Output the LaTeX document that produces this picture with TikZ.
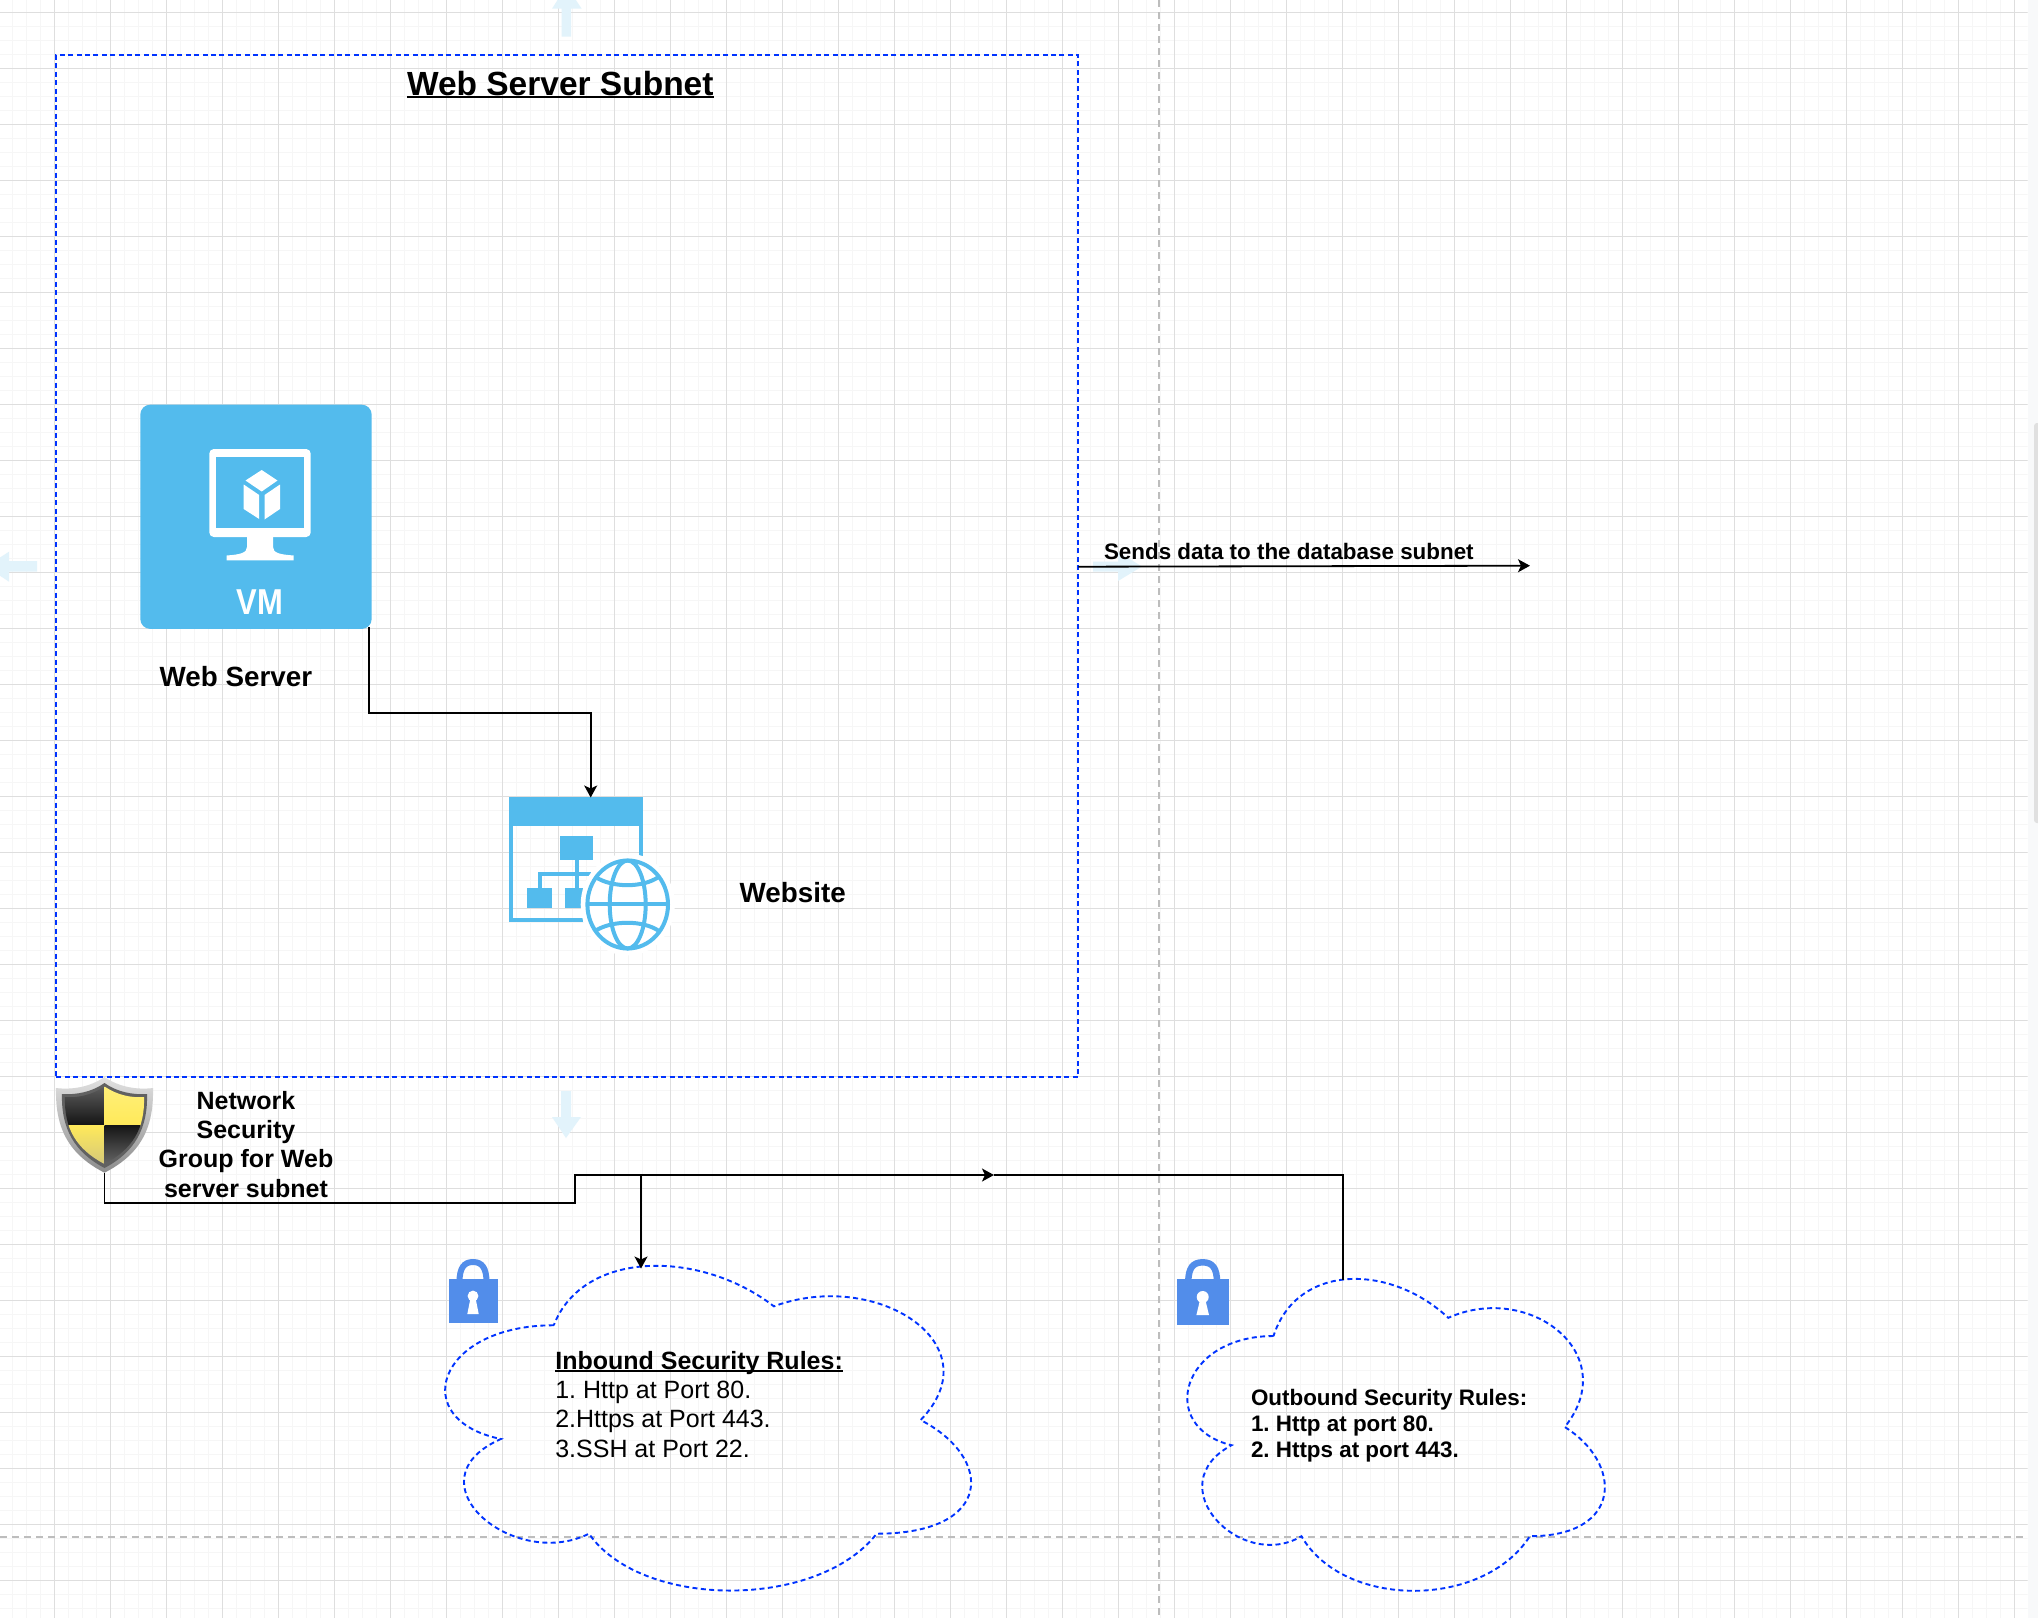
\documentclass[tikz,border=0pt]{standalone}
\usepackage{fontspec}
\setmainfont{Liberation Sans}
\usetikzlibrary{arrows.meta}
\frenchspacing
\definecolor{azureblue}{HTML}{53BBED}
\definecolor{boxblue}{HTML}{0033FF}
\definecolor{lockblue}{HTML}{528DEA}
\definecolor{gridmajor}{HTML}{DEDEDE}
\definecolor{gridminor}{HTML}{F6F6F6}
\definecolor{guidegray}{HTML}{BDBDBD}
\definecolor{hoverblue}{HTML}{E2F3FB}
\definecolor{panelgray}{HTML}{F8F9FA}
\definecolor{scrollgray}{HTML}{E0E0E0}
\definecolor{shieldyellow}{HTML}{FFE95A}
\definecolor{shieldpale}{HTML}{FFF07A}
\newsavebox{\ulbox}
\newcommand{\thickul}[2]{\sbox{\ulbox}{#2}\rlap{\rule[-#1]{\wd\ulbox}{2.2pt}}\usebox{\ulbox}}
\tikzset{
  bluedash/.style={draw=boxblue,line width=1.9pt,dash pattern=on 5pt off 3.4pt},
  guide/.style={draw=guidegray,line width=1.9pt,dash pattern=on 7pt off 5pt},
  conn/.style={draw=black,line width=1.8pt},
  connarrow/.style={conn,-{Stealth[length=12pt,width=13pt,inset=3pt]}},
  lbl/.style={inner sep=0pt,outer sep=0pt,text=black},
  hover/.style={fill=hoverblue},
  anchorbox/.style={inner sep=0pt,outer sep=0pt},
}
\newcommand{\cloudshape}[4]{%
  \draw[bluedash]
  ({#1+.25*#3},{#2+.25*#4})
  .. controls ({#1+.05*#3},{#2+.25*#4}) and ({#1},{#2+.5*#4}) .. ({#1+.16*#3},{#2+.55*#4})
  .. controls ({#1},{#2+.66*#4}) and ({#1+.18*#3},{#2+.9*#4}) .. ({#1+.31*#3},{#2+.8*#4})
  .. controls ({#1+.4*#3},{#2+#4}) and ({#1+.7*#3},{#2+#4}) .. ({#1+.8*#3},{#2+.8*#4})
  .. controls ({#1+#3},{#2+.8*#4}) and ({#1+#3},{#2+.6*#4}) .. ({#1+.875*#3},{#2+.5*#4})
  .. controls ({#1+#3},{#2+.3*#4}) and ({#1+.8*#3},{#2+.1*#4}) .. ({#1+.625*#3},{#2+.2*#4})
  .. controls ({#1+.5*#3},{#2+.05*#4}) and ({#1+.3*#3},{#2+.05*#4}) .. cycle;}
\begin{document}
\begin{tikzpicture}[x=1pt,y=-1pt]
\useasboundingbox (0,0) rectangle (2038,1618);
\fill[white] (0,0) rectangle (2038,1618);
\begin{scope}
\clip (0,0) rectangle (2027.7,1618);
% minor grid
\foreach \i in {0,...,145} {\draw[gridminor,line width=1.6pt] ({12.3+14*\i},0) -- ({12.3+14*\i},1618);}
\foreach \i in {0,...,115} {\draw[gridminor,line width=1.6pt] (0,{12.3+14*\i}) -- (2038,{12.3+14*\i});}
% major grid
\foreach \i in {0,...,35} {\draw[gridmajor,line width=1.2pt] ({54.3+56*\i},0) -- ({54.3+56*\i},1618);}
\foreach \i in {0,...,28} {\draw[gridmajor,line width=1.2pt] (0,{12.3+56*\i}) -- (2038,{12.3+56*\i});}
% hover arrows
\fill[hover] (561.7,36.7) -- (561.7,8.7) -- (552,8.7) -- (566.5,-14) -- (581.7,8.7) -- (571,8.7) -- (571,36.7) -- cycle;
\fill[hover] (37,561) -- (9,561) -- (9,551.7) -- (-14,566.5) -- (9,581.7) -- (9,571.7) -- (37,571.7) -- cycle;
\fill[hover] (561,1091) -- (571,1091) -- (571,1117) -- (581,1117) -- (566,1138) -- (552,1117) -- (561,1117) -- cycle;
\fill[hover] (1093,561.5) -- (1118,561.5) -- (1118,552) -- (1142,566.5) -- (1118,581) -- (1118,571.5) -- (1093,571.5) -- cycle;
\end{scope}
% side panel and scrollbar
\fill[panelgray] (2027.7,0) rectangle (2038,1618);
\fill[scrollgray,rounded corners=3pt] (2034,423) rectangle (2042,823);
\fill[scrollgray] (2036,423) rectangle (2038,823);
% guides
\draw[guide] (1159,0) -- (1159,1618);
\draw[guide] (0,1537) -- (2023,1537);

% subnet box
\node[anchorbox,draw=boxblue,line width=1.9pt,dash pattern=on 5pt off 3.4pt,minimum width=1022pt,minimum height=1022pt] (subnet) at (567.4,566) {};
\node[lbl,anchor=base west,font=\fontsize{33.5}{40}\selectfont\bfseries] (subnetlabel) at (407,95) {\thickul{3.4pt}{Web Server Subnet}};

% VM
\node[anchorbox,fill=azureblue,rounded corners=10pt,minimum width=231.4pt,minimum height=224.3pt] (vm) at (256,516.8) {};
\fill[white,rounded corners=4.5pt] (209.3,449) rectangle (310.7,537);
\fill[azureblue] (216.3,457.3) rectangle (303.7,528.3);
\fill[white] (247,536) -- (247,547) .. controls (247,553) and (240,554.5) .. (226.7,555.5) -- (226.7,560.3) -- (293.7,560.3) -- (293.7,555.5) .. controls (280,554.5) and (273,553) .. (273,547) -- (273,536) -- cycle;
\fill[white] (261.7,470) -- (277.5,480.5) -- (261.7,491.5) -- (245.5,480.5) -- cycle;
\fill[white] (243.7,484.5) -- (259.2,495) -- (259.2,519) -- (243.7,509) -- cycle;
\fill[white] (264.5,495) -- (280,484.5) -- (280,509) -- (264.5,519.5) -- cycle;
\node[lbl,anchor=base,text=white,font=\fontsize{36}{40}\selectfont\bfseries] (vmtext) at (260,614) {\scalebox{.86}[1]{VM}};
\node[lbl,anchor=base west,font=\fontsize{27.8}{32}\selectfont\bfseries] (webserver) at (159.7,686) {Web Server};

% website icon
\node[anchorbox,minimum width=134pt,minimum height=125pt] (site) at (576.3,859.2) {};
\fill[azureblue] (509.3,796.7) rectangle (643.3,826);
\fill[azureblue] (509.3,826) rectangle (512.8,921.7);
\fill[azureblue] (509.3,918) rectangle (583,921.7);
\fill[azureblue] (639.3,826) rectangle (643.3,856);
\fill[azureblue] (560.3,835.7) rectangle (593.3,860);
\fill[azureblue] (575,860) rectangle (579,888.3);
\fill[azureblue] (537.7,872.3) rectangle (591,876);
\fill[azureblue] (537.7,872.3) rectangle (541.5,888.3);
\fill[azureblue] (527.3,888.3) rectangle (552,907.7);
\fill[azureblue] (564.7,888.3) rectangle (582.7,907.7);
\fill[white] (627.7,904.5) ellipse [x radius=47,y radius=51];
\draw[azureblue,line width=4pt] (627.7,904.5) ellipse [x radius=40.3,y radius=44];
\draw[azureblue,line width=4pt] (627.7,904.5) ellipse [x radius=18,y radius=44];
\draw[azureblue,line width=4pt] (588,904) -- (667,904);
\draw[azureblue,line width=4pt] (595,876.7) .. controls (612,888) and (643,888) .. (659,876.7);
\draw[azureblue,line width=4pt] (595,931) .. controls (612,920) and (643,920) .. (659,931);
\node[lbl,anchor=base west,font=\fontsize{27.8}{32}\selectfont\bfseries] (website) at (739.7,902) {Website};

% shield
\begin{scope}
\node[anchorbox,minimum width=97pt,minimum height=96pt] (shield) at (104.5,1125) {};
\shade[top color=black!12,bottom color=black!45]
 (104.5,1077) .. controls (90,1087) and (72,1090) .. (56,1088)
 .. controls (55,1130) and (70,1155) .. (104.5,1172.7)
 .. controls (139,1155) and (154,1130) .. (153,1088)
 .. controls (137,1090) and (119,1087) .. (104.5,1077) -- cycle;
\fill[black!62] (104.5,1083) .. controls (92,1092) and (76,1095) .. (62,1094)
 .. controls (61,1128) and (74,1152) .. (104.5,1168)
 .. controls (135,1152) and (148,1128) .. (147,1094)
 .. controls (133,1095) and (117,1092) .. (104.5,1083) -- cycle;
\begin{scope}
\clip (104.5,1086.5) .. controls (92,1095) and (78,1098) .. (65,1097)
 .. controls (64,1128) and (76,1149) .. (104.5,1164)
 .. controls (133,1149) and (145,1128) .. (144,1097)
 .. controls (131,1098) and (117,1095) .. (104.5,1086.5) -- cycle;
\shade[top color=black!62,bottom color=black!92] (60,1084) rectangle (104.5,1125);
\shade[top color=shieldpale,bottom color=shieldyellow] (104.5,1084) rectangle (150,1125);
\shade[top color=shieldyellow,bottom color=shieldyellow!75!black!70!white] (60,1125) rectangle (104.5,1167);
\shade[top color=black!92,bottom color=black!58] (104.5,1125) rectangle (150,1167);
\end{scope}
\end{scope}
\node[lbl,align=center,anchor=north,font=\fontsize{25}{29.3}\selectfont\bfseries] (nsglabel) at (246,1091) {Network\\Security\\Group for Web\\server subnet};

% locks
\draw[lockblue,line width=6pt] (459.5,1282) .. controls (459.5,1268) and (464,1262) .. (473,1262) .. controls (482,1262) and (486.5,1268) .. (486.5,1282);
\node[anchorbox,fill=lockblue,minimum width=49pt,minimum height=43.7pt] (lockin) at (473,1301.2) {};
\fill[white] (473,1296) circle (5.4);
\fill[white] (470.5,1298) -- (475.5,1298) -- (478.7,1314) -- (467.3,1314) -- cycle;
\draw[lockblue,line width=6.5pt] (1188.3,1282) .. controls (1188.3,1268) and (1193,1262.3) .. (1202.7,1262.3) .. controls (1212.4,1262.3) and (1217,1268) .. (1217,1282);
\node[anchorbox,fill=lockblue,minimum width=52pt,minimum height=45.4pt] (lockout) at (1202.7,1302) {};
\fill[white] (1202.7,1297) circle (6);
\fill[white] (1200,1300) -- (1205.4,1300) -- (1209,1315) -- (1196.4,1315) -- cycle;

% clouds
\cloudshape{407}{1230.5}{587}{379}
\cloudshape{1157}{1245}{466}{364}
\coordinate (inboundtop) at (641,1268.5);
\coordinate (outboundtop) at (1342.7,1279.5);
\node[lbl,align=left,anchor=north west,font=\fontsize{25}{29.3}\selectfont] (inboundtext) at (555.3,1351) {{\bfseries\thickul{3pt}{Inbound Security Rules:}}\\1. Http at Port 80.\\2.Https at Port 443.\\3.SSH at Port 22.};
\node[lbl,align=left,anchor=north west,font=\fontsize{22.4}{26.3}\selectfont\bfseries] (outboundtext) at (1251,1389) {Outbound Security Rules:\\1. Http at port 80.\\2. Https at port 443.};

% connectors
\coordinate (vmout) at (369,627);
\coordinate (sitein) at (590.7,797.5);
\draw[connarrow] (vmout) -- ++(0,86) -| (sitein);
\coordinate (junction) at (641,1175);
\coordinate (midarrow) at (994,1175);
\draw[conn] (shield.south) -- ++(0,30) -| (574.6,1175) -- (junction);
\draw[connarrow] (junction) -- (inboundtop);
\draw[connarrow] (junction) -- (midarrow);
\draw[conn] (midarrow) -| (outboundtop);
\coordinate (sendsend) at (1530,565.7);
\draw[connarrow] (subnet.east |- 0,566.7) -- (sendsend);
\node[lbl,anchor=base west,font=\fontsize{22.4}{26}\selectfont\bfseries] (sends) at (1104,559) {Sends data to the database subnet};
\end{tikzpicture}
\end{document}
